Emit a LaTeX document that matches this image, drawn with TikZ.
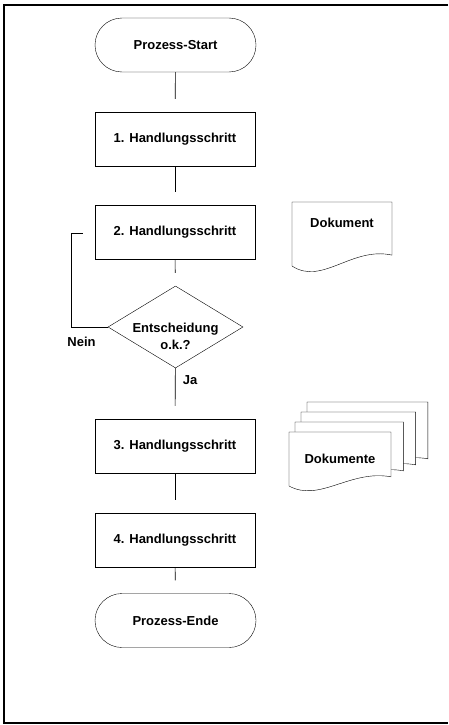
\documentclass[tikz,border=0pt]{standalone}
\usepackage{fontspec}
\setmainfont{Liberation Sans}
\usetikzlibrary{shapes.geometric}
% page of a document symbol: x, y (top left), width, left height
\newcommand{\dokblatt}[4]{%
  \draw[fill=white] (#1,#2) -- ({#1+#3},#2) -- ({#1+#3},{#2+0.83*#4})
    .. controls ({#1+0.6*#3},{#2+0.69*#4}) and ({#1+0.3*#3},{#2+1.31*#4}) .. (#1,{#2+#4}) -- cycle;}
\begin{document}
\begin{tikzpicture}[x=1pt,y=-1pt,
    every node/.style={font=\fontsize{13}{17}\selectfont\bfseries},
    terminal/.style={draw,rounded corners=27pt,minimum width=161pt,minimum height=54pt},
    schritt/.style={draw,minimum width=160pt,minimum height=54pt},
    entscheidung/.style={draw,diamond,inner sep=0pt,minimum width=135pt,minimum height=82pt},
    verbinder/.style={draw,line width=0.6pt,shorten >=13pt}]
  \useasboundingbox (0,0) rectangle (448,725);
  % Frame
  \draw[line width=1.6pt] (448,5) -- (4,5) -- (4,723) -- (448,723);
  % Nodes: flow
  \node[terminal] (start) at (175.5,45) {Prozess-Start};
  \node[schritt] (schritt1) at (175,139) {1. Handlungsschritt};
  \node[schritt] (schritt2) at (175,232.5) {2. Handlungsschritt};
  \node[entscheidung] (ent) at (175.5,327) {};
  \node (enttext) at (175.5,336) [align=center] {Entscheidung\\o.k.?};
  \node[schritt] (schritt3) at (175,446) {3. Handlungsschritt};
  \node[schritt] (schritt4) at (175,540) {4. Handlungsschritt};
  \node[terminal] (ende) at (175.5,620.5) {Prozess-Ende};
  % Nodes: documents
  \dokblatt{292}{202}{100}{64}
  \node (dok) at (342,223) {Dokument};
  \foreach \i in {3,2,1,0} {
    \dokblatt{289+6*\i}{432-10*\i}{102+6.3*\i}{54+4*\i}
  }
  \node (doks) at (340,459) {Dokumente};
  % Labels
  \node (nein) at (81.5,342) {Nein};
  \node (ja) at (190,380) {Ja};
  % Arrows: flow
  \draw[verbinder] (start) -- (schritt1);
  \draw[verbinder] (schritt1) -- (schritt2);
  \draw[verbinder] (schritt2) -- (ent);
  \draw[verbinder] (ent) -- (schritt3);
  \draw[verbinder] (schritt3) -- (schritt4);
  \draw[verbinder] (schritt4) -- (ende);
  % Arrows: loop back
  \coordinate (rueck) at (83,233);
  \draw[line width=0.6pt] (ent.west) -- (71,327) |- (rueck);
\end{tikzpicture}
\end{document}
